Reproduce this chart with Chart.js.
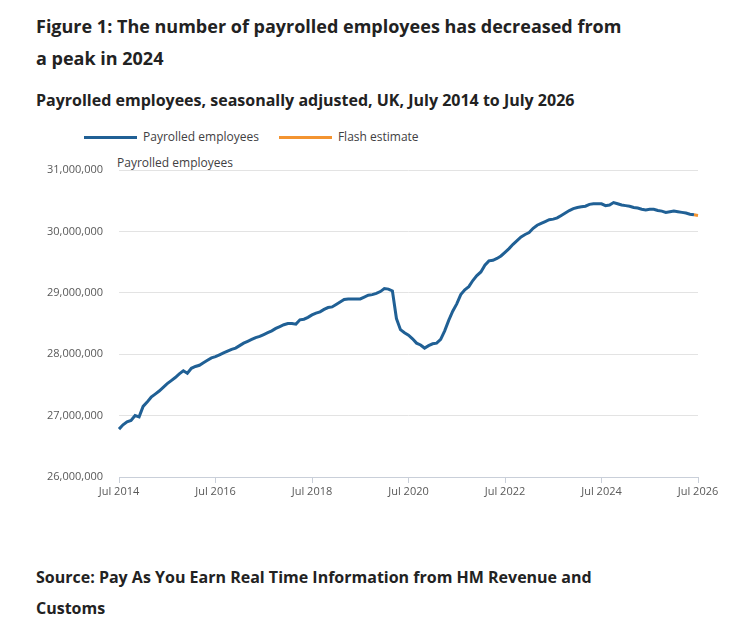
<!DOCTYPE html>
<html>
<head>
<meta charset="utf-8">
<script src="https://cdn.jsdelivr.net/npm/chart.js@4.4.0/dist/chart.umd.min.js"></script>
<style>
  html, body { margin: 0; padding: 0; background: #fff; }
  body { width: 745px; height: 628px; position: relative; overflow: hidden; font-family: "Open Sans", sans-serif; }
  .t { position: absolute; left: 36px; color: #222; font-weight: 700; white-space: nowrap; }
  #title { top: 10px; font-size: 18px; line-height: 32px; }
  #subtitle { top: 88px; font-size: 16px; line-height: 24px; }
  #source { top: 562px; font-size: 16px; line-height: 31px; }
  #legend { position: absolute; top: 128px; left: 84px; font-size: 12px; line-height: 18px; color: #414042; display: flex; }
  .li { display: flex; align-items: center; margin-right: 20px; }
  .sw { width: 53px; height: 3px; margin-right: 6px; }
  #ytitle { position: absolute; left: 117px; top: 154px; font-size: 12px; line-height: 18px; color: #414042; }
  canvas { position: absolute; left: 0; top: 0; }
</style>
</head>
<body>
<div class="t" id="title">Figure 1: The number of payrolled employees has decreased from<br>a peak in 2024</div>
<div class="t" id="subtitle">Payrolled employees, seasonally adjusted, UK, July 2014 to July 2026</div>
<div id="legend"></div>
<div id="ytitle">Payrolled employees</div>
<div class="t" id="source">Source: Pay As You Earn Real Time Information from HM Revenue and<br>Customs</div>
<canvas id="c" width="745" height="628"></canvas>
<script>
// Months from Jul 2014 to Jul 2026
const monthNames = ["Jan","Feb","Mar","Apr","May","Jun","Jul","Aug","Sep","Oct","Nov","Dec"];
const categories = [];
for (let i = 0; i <= 144; i++) {
  const m = (6 + i) % 12;
  const y = 2014 + Math.floor((6 + i) / 12);
  categories.push(monthNames[m] + " " + y);
}
const tickLabels = ["Jul 2014","Jul 2016","Jul 2018","Jul 2020","Jul 2022","Jul 2024","Jul 2026"];

// Payrolled employees, millions
const payrolledMillions = [
  26.78,26.85,26.90,26.92,27.00,26.98,27.15,27.22,27.30,27.35,27.40,27.46,
  27.52,27.57,27.62,27.68,27.73,27.69,27.77,27.80,27.82,27.86,27.90,27.94,
  27.96,27.99,28.02,28.05,28.08,28.10,28.14,28.18,28.21,28.24,28.27,28.29,
  28.32,28.35,28.38,28.42,28.45,28.48,28.50,28.50,28.49,28.56,28.57,28.60,
  28.64,28.67,28.69,28.73,28.76,28.77,28.81,28.85,28.89,28.90,28.90,28.90,
  28.90,28.93,28.96,28.97,28.99,29.02,29.07,29.06,29.03,28.58,28.40,28.35,
  28.31,28.25,28.18,28.15,28.10,28.14,28.17,28.18,28.24,28.38,28.55,28.70,
  28.82,28.97,29.05,29.10,29.20,29.28,29.34,29.45,29.52,29.53,29.56,29.60,
  29.66,29.72,29.79,29.85,29.91,29.95,29.98,30.05,30.10,30.13,30.16,30.19,
  30.20,30.22,30.26,30.30,30.34,30.37,30.39,30.40,30.41,30.44,30.45,30.45,
  30.45,30.42,30.43,30.47,30.45,30.43,30.42,30.41,30.39,30.38,30.36,30.35,
  30.36,30.36,30.34,30.33,30.31,30.32,30.33,30.32,30.31,30.30,30.28,30.27,
  30.26
];
// Flash estimate: last two months only
const flashMillions = payrolledMillions.map((v, i) => i >= 143 ? v : null);

const yTicks = [26000000, 27000000, 28000000, 29000000, 30000000, 31000000];

const BLUE = "#206095", ORANGE = "#f39431";
const series = [
  { label: "Payrolled employees", color: BLUE, data: payrolledMillions.map((v, i) => i <= 143 ? v * 1e6 : null) },
  { label: "Flash estimate", color: ORANGE, data: flashMillions.map(v => v == null ? null : v * 1e6) }
];

// HTML legend
const lg = document.getElementById("legend");
series.forEach(s => {
  const d = document.createElement("div"); d.className = "li";
  d.innerHTML = '<div class="sw" style="background:' + s.color + '"></div><span>' + s.label + '</span>';
  lg.appendChild(d);
});

new Chart(document.getElementById("c"), {
  type: "line",
  data: {
    labels: categories,
    datasets: series.map(s => ({
      label: s.label, data: s.data, borderColor: s.color, backgroundColor: s.color,
      borderWidth: 3, pointRadius: 0, tension: 0, spanGaps: false
    }))
  },
  options: {
    responsive: false, animation: false,
    layout: { padding: { left: 0, right: 47, top: 170, bottom: 121 } },
    plugins: { legend: { display: false }, tooltip: { enabled: false } },
    scales: {
      x: {
        type: "category", offset: false,
        afterFit: s => { s.height = 30; },
        grid: { drawOnChartArea: false, drawTicks: true, tickLength: 6, color: "#c9cfd9" },
        border: { display: true, color: "#c9cfd9" },
        ticks: {
          autoSkip: false, maxRotation: 0, padding: 2, color: "#595959",
          font: { family: "Open Sans", size: 11 },
          callback: function(v, i) {
            const lab = categories[i];
            return tickLabels.includes(lab) ? lab : null;
          }
        }
      },
      y: {
        min: 26000000, max: 31000000,
        afterFit: s => { s.width = 119; },
        afterBuildTicks: s => { s.ticks = yTicks.map(v => ({ value: v })); },
        grid: { color: "#e3e3e3", drawTicks: false },
        border: { display: false },
        ticks: {
          padding: 16, color: "#595959",
          font: { family: "Open Sans", size: 11 },
          callback: v => v.toLocaleString("en-GB")
        }
      }
    }
  }
});
</script>
</body>
</html>
